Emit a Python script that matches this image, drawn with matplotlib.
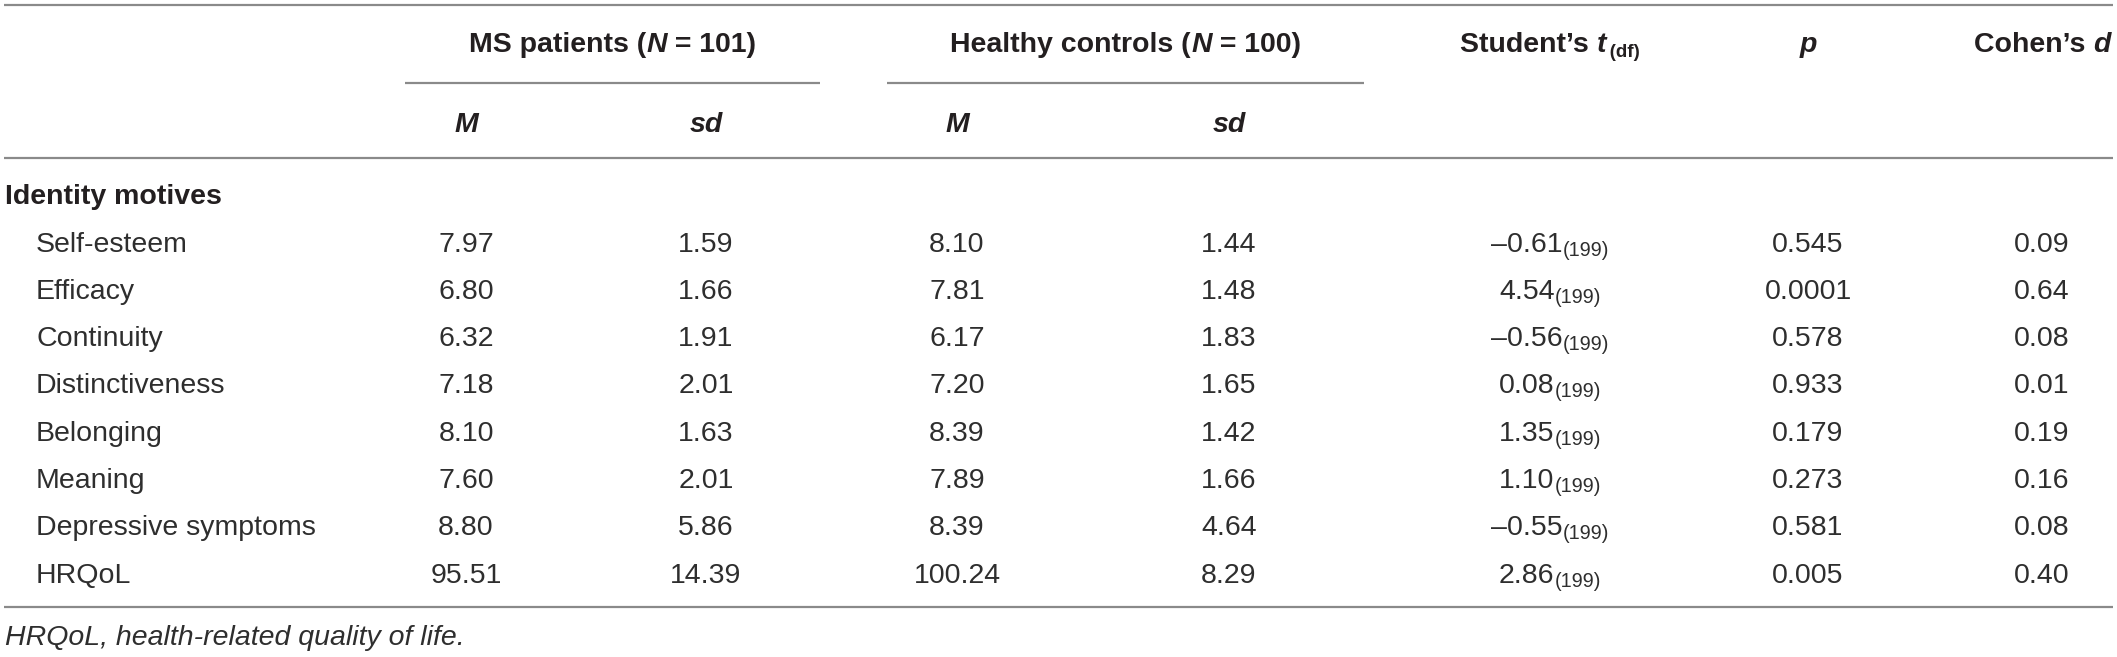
import matplotlib
matplotlib.use("Agg")
import matplotlib.pyplot as plt
from matplotlib.font_manager import FontProperties

# table contents
variables = ["Self-esteem", "Efficacy", "Continuity", "Distinctiveness",
             "Belonging", "Meaning", "Depressive symptoms", "HRQoL"]
ms_mean = [7.97, 6.80, 6.32, 7.18, 8.10, 7.60, 8.80, 95.51]
ms_sd = [1.59, 1.66, 1.91, 2.01, 1.63, 2.01, 5.86, 14.39]
hc_mean = [8.10, 7.81, 6.17, 7.20, 8.39, 7.89, 8.39, 100.24]
hc_sd = [1.44, 1.48, 1.83, 1.65, 1.42, 1.66, 4.64, 8.29]
t_values = [-0.61, 4.54, -0.56, 0.08, 1.35, 1.10, -0.55, 2.86]
t_df = [199, 199, 199, 199, 199, 199, 199, 199]
p_values = ["0.545", "0.0001", "0.578", "0.933", "0.179", "0.273", "0.581", "0.005"]
cohen_d = [0.09, 0.64, 0.08, 0.01, 0.19, 0.16, 0.08, 0.40]

group_title = "Identity motives"
footnote = "HRQoL, health-related quality of life."

# layout (pixels)
W, H = 2117, 657
FONT = "Liberation Sans"
SIZE = 20.5
INK = "#231f20"
BODY = "#2e2e2e"
RULE = "#8a8a8a"

X_LABEL = 36
X_MS_M, X_MS_SD = 466, 706
X_HC_M, X_HC_SD = 957, 1229
X_T, X_P, X_D = 1550, 1808, 2042

Y_HEAD1, Y_HEAD2, Y_GROUP = 52, 132, 204
Y_ROW0, ROW_STEP = 251.5, 47.3
Y_FOOT = 645

regular = FontProperties(family=FONT, size=SIZE)
italic = FontProperties(family=FONT, size=SIZE, style="italic")
bold = FontProperties(family=FONT, size=SIZE, weight="bold")
bold_it = FontProperties(family=FONT, size=SIZE, weight="bold", style="italic")
sub_reg = FontProperties(family=FONT, size=SIZE * 0.7)
sub_bold = FontProperties(family=FONT, size=SIZE * 0.66, weight="bold")


def text_width(ax, s, fp):
    """Advance width of a string in pixels (spaces included)."""
    r = ax.figure.canvas.get_renderer()

    def w(txt):
        t = ax.text(0, 0, txt, fontproperties=fp)
        bb = t.get_window_extent(r)
        t.remove()
        return bb.width

    return w("x" + s + "x") - w("xx")


def draw_runs(ax, x, y, runs, color=INK):
    """Draw consecutive text runs (string, font, dy) centred on x."""
    widths = [text_width(ax, s, fp) for s, fp, _ in runs]
    start = x - sum(widths) / 2
    for (s, fp, dy), w in zip(runs, widths):
        ax.text(start, y + dy, s, fontproperties=fp, ha="left",
                va="baseline", color=color)
        start += w


def fmt(v):
    return f"{v:.2f}".replace("-", "\u2013")


def main():
    fig = plt.figure(figsize=(W / 100, H / 100), dpi=100)
    ax = fig.add_axes([0, 0, 1, 1])
    ax.set_xlim(0, W)
    ax.set_ylim(H, 0)
    ax.axis("off")

    # rules
    ax.hlines([5, 158, 607], 4, 2113, color=RULE, lw=1.6)
    ax.hlines([82.5, 82.5], [405, 887], [820, 1364], color=RULE, lw=1.6)

    # header
    draw_runs(ax, (405 + 820) / 2, Y_HEAD1,
              [("MS patients (", bold, 0), ("N", bold_it, 0), (" = 101)", bold, 0)])
    draw_runs(ax, (887 + 1364) / 2, Y_HEAD1,
              [("Healthy controls (", bold, 0), ("N", bold_it, 0), (" = 100)", bold, 0)])
    draw_runs(ax, X_T, Y_HEAD1,
              [("Student\u2019s ", bold, 0), ("t", bold_it, 0), ("\u2009(df)", sub_bold, 5)])
    ax.text(X_P, Y_HEAD1, "p", fontproperties=bold_it, ha="center",
            va="baseline", color=INK)
    draw_runs(ax, X_D, Y_HEAD1,
              [("Cohen\u2019s ", bold, 0), ("d", bold_it, 0)])
    for x, s in [(X_MS_M, "M"), (X_MS_SD, "sd"), (X_HC_M, "M"), (X_HC_SD, "sd")]:
        ax.text(x, Y_HEAD2, s, fontproperties=bold_it, ha="center",
                va="baseline", color=INK)

    ax.text(5, Y_GROUP, group_title, fontproperties=bold, ha="left",
            va="baseline", color=INK)

    # body
    for i, name in enumerate(variables):
        y = Y_ROW0 + i * ROW_STEP
        ax.text(X_LABEL, y, name, fontproperties=regular, ha="left",
                va="baseline", color=BODY)
        for x, v in [(X_MS_M, ms_mean[i]), (X_MS_SD, ms_sd[i]),
                     (X_HC_M, hc_mean[i]), (X_HC_SD, hc_sd[i]), (X_D, cohen_d[i])]:
            ax.text(x, y, fmt(v), fontproperties=regular, ha="center",
                    va="baseline", color=BODY)
        draw_runs(ax, X_T, y, [(fmt(t_values[i]), regular, 0),
                               (f"({t_df[i]})", sub_reg, 4)], color=BODY)
        ax.text(X_P, y, p_values[i], fontproperties=regular, ha="center",
                va="baseline", color=BODY)

    ax.text(5, Y_FOOT, footnote, fontproperties=italic, ha="left",
            va="baseline", color=BODY)

    fig.savefig("out.png", dpi=100, facecolor="white")


if __name__ == "__main__":
    main()
